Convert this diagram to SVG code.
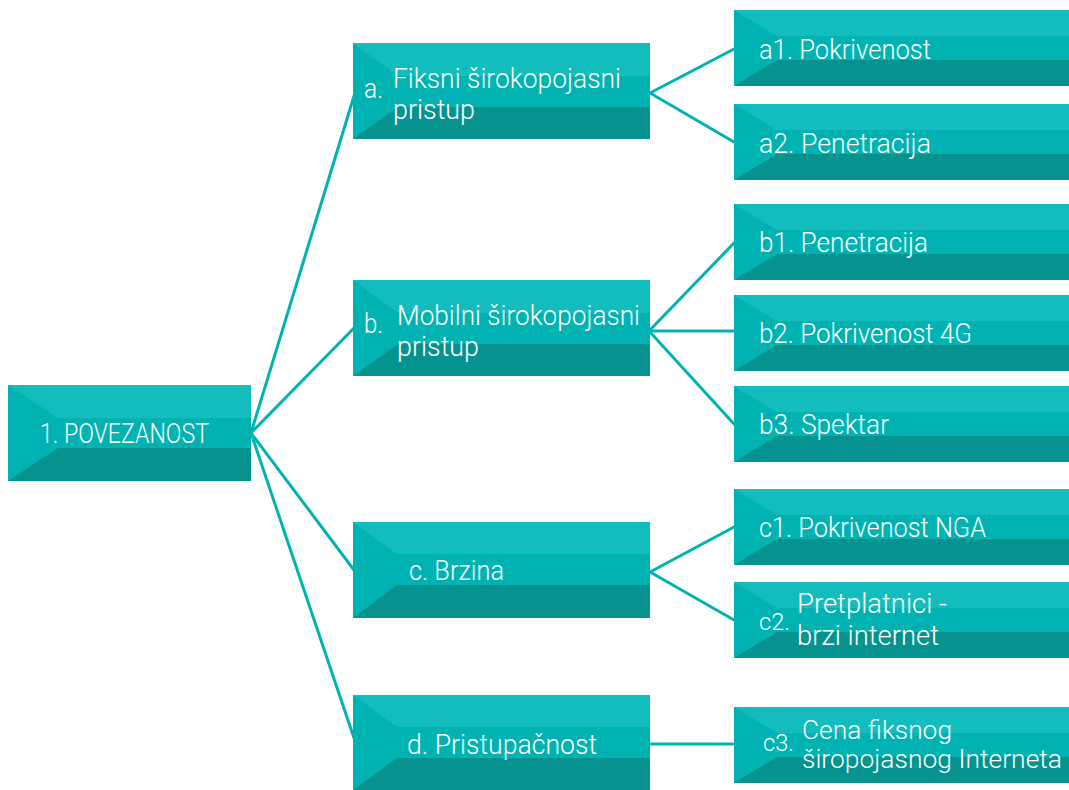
<svg xmlns="http://www.w3.org/2000/svg" width="1069" height="790" viewBox="0 0 1069 790">
<style>
.l{fill:#13bcbd}.m{fill:#00b3b2}.d{fill:#06938f}
.t{font-family:Roboto,"Liberation Sans",sans-serif;font-weight:300;font-size:28px;fill:#ffffff}
.s{font-size:23px}
.n{font-size:26px}
.c{stroke:#00b3b2;stroke-width:3;fill:none;stroke-linecap:round}
</style>
<rect width="1069" height="790" fill="#ffffff"/>
<g id="connectors" class="c">
<line x1="251" y1="433" x2="354" y2="96"/>
<line x1="251" y1="433" x2="354" y2="328"/>
<line x1="251" y1="433" x2="354" y2="570"/>
<line x1="251" y1="433" x2="354" y2="738"/>
<line x1="650" y1="93" x2="734" y2="49"/>
<line x1="650" y1="93" x2="734" y2="142"/>
<line x1="650" y1="330" x2="734" y2="243"/>
<line x1="650" y1="331" x2="734" y2="331"/>
<line x1="650" y1="332" x2="734" y2="424"/>
<line x1="650" y1="572" x2="734" y2="527"/>
<line x1="650" y1="572" x2="734" y2="620"/>
<line x1="650" y1="744" x2="734" y2="744"/>
</g>
<g id="root">
<rect class="m" x="8" y="385" width="243" height="96"/>
<rect class="l" x="8" y="385" width="243" height="33"/>
<rect class="d" x="8" y="448" width="243" height="33"/>
<polygon class="m" points="8,385 58,418 58,448 8,481"/>
<text class="t" x="40" y="443" textLength="169" lengthAdjust="spacingAndGlyphs">1. POVEZANOST</text>
</g>
<g id="node-a">
<rect class="m" x="353" y="43" width="297" height="96"/>
<rect class="l" x="353" y="43" width="297" height="33"/>
<rect class="d" x="353" y="107" width="297" height="32"/>
<polygon class="m" points="353,43 398,76 398,107 353,139"/>
<text class="t" x="364" y="98" textLength="19" lengthAdjust="spacingAndGlyphs">a.</text>
<text class="t" x="393" y="88" textLength="228" lengthAdjust="spacingAndGlyphs">Fiksni širokopojasni</text>
<text class="t" x="393" y="119" textLength="82" lengthAdjust="spacingAndGlyphs">pristup</text>
</g>
<g id="node-b">
<rect class="m" x="353" y="280" width="297" height="96"/>
<rect class="l" x="353" y="280" width="297" height="33"/>
<rect class="d" x="353" y="344" width="297" height="32"/>
<polygon class="m" points="353,280 398,313 398,344 353,376"/>
<text class="t" x="364" y="333" textLength="19" lengthAdjust="spacingAndGlyphs">b.</text>
<text class="t" x="397" y="325" textLength="243" lengthAdjust="spacingAndGlyphs">Mobilni širokopojasni</text>
<text class="t" x="397" y="356" textLength="82" lengthAdjust="spacingAndGlyphs">pristup</text>
</g>
<g id="node-c">
<rect class="m" x="353" y="522" width="297" height="96"/>
<rect class="l" x="353" y="522" width="297" height="32"/>
<rect class="d" x="353" y="585" width="297" height="33"/>
<polygon class="m" points="353,522 397,554 397,585 353,618"/>
<text class="t" x="409" y="580" textLength="95" lengthAdjust="spacingAndGlyphs">c. Brzina</text>
</g>
<g id="node-d">
<rect class="m" x="353" y="695" width="297" height="95"/>
<rect class="l" x="353" y="695" width="297" height="32"/>
<rect class="d" x="353" y="758" width="297" height="32"/>
<polygon class="m" points="353,695 397,727 397,758 353,790"/>
<text class="t" x="407" y="754" textLength="190" lengthAdjust="spacingAndGlyphs">d. Pristupačnost</text>
</g>
<g id="node-a1">
<rect class="m" x="734" y="10" width="335" height="76"/>
<rect class="l" x="734" y="10" width="335" height="26"/>
<rect class="d" x="734" y="60" width="335" height="26"/>
<polygon class="m" points="734,10 777,36 777,60 734,86"/>
<text class="t" x="759" y="59" textLength="172" lengthAdjust="spacingAndGlyphs">a1. Pokrivenost</text>
</g>
<g id="node-a2">
<rect class="m" x="734" y="104" width="335" height="76"/>
<rect class="l" x="734" y="104" width="335" height="26"/>
<rect class="d" x="734" y="154" width="335" height="26"/>
<polygon class="m" points="734,104 777,130 777,154 734,180"/>
<text class="t" x="759" y="153" textLength="172" lengthAdjust="spacingAndGlyphs">a2. Penetracija</text>
</g>
<g id="node-b1">
<rect class="m" x="734" y="204" width="335" height="76"/>
<rect class="l" x="734" y="204" width="335" height="26"/>
<rect class="d" x="734" y="254" width="335" height="26"/>
<polygon class="m" points="734,204 777,230 777,254 734,280"/>
<text class="t" x="759" y="252" textLength="169" lengthAdjust="spacingAndGlyphs">b1. Penetracija</text>
</g>
<g id="node-b2">
<rect class="m" x="734" y="295" width="335" height="76"/>
<rect class="l" x="734" y="295" width="335" height="26"/>
<rect class="d" x="734" y="345" width="335" height="26"/>
<polygon class="m" points="734,295 777,321 777,345 734,371"/>
<text class="t" x="759" y="343" textLength="213" lengthAdjust="spacingAndGlyphs">b2. Pokrivenost 4G</text>
</g>
<g id="node-b3">
<rect class="m" x="734" y="386" width="335" height="76"/>
<rect class="l" x="734" y="386" width="335" height="26"/>
<rect class="d" x="734" y="436" width="335" height="26"/>
<polygon class="m" points="734,386 777,412 777,436 734,462"/>
<text class="t" x="759" y="434" textLength="130" lengthAdjust="spacingAndGlyphs">b3. Spektar</text>
</g>
<g id="node-c1">
<rect class="m" x="734" y="489" width="335" height="76"/>
<rect class="l" x="734" y="489" width="335" height="26"/>
<rect class="d" x="734" y="539" width="335" height="26"/>
<polygon class="m" points="734,489 777,515 777,539 734,565"/>
<text class="t" x="759" y="537" textLength="227" lengthAdjust="spacingAndGlyphs">c1. Pokrivenost NGA</text>
</g>
<g id="node-c2">
<rect class="m" x="734" y="582" width="335" height="76"/>
<rect class="l" x="734" y="582" width="335" height="26"/>
<rect class="d" x="734" y="632" width="335" height="26"/>
<polygon class="m" points="734,582 777,608 777,632 734,658"/>
<text class="t s" x="759" y="630" textLength="31" lengthAdjust="spacingAndGlyphs">c2.</text>
<text class="t" x="797" y="613" textLength="150" lengthAdjust="spacingAndGlyphs">Pretplatnici -</text>
<text class="t" x="797" y="645" textLength="142" lengthAdjust="spacingAndGlyphs">brzi internet</text>
</g>
<g id="node-c3">
<rect class="m" x="734" y="707" width="335" height="76"/>
<rect class="l" x="734" y="707" width="335" height="26"/>
<rect class="d" x="734" y="757" width="335" height="26"/>
<polygon class="m" points="734,707 777,733 777,757 734,783"/>
<text class="t s" x="763" y="751" textLength="31" lengthAdjust="spacingAndGlyphs">c3.</text>
<text class="t n" x="802" y="739" textLength="150" lengthAdjust="spacingAndGlyphs">Cena fiksnog</text>
<text class="t n" x="802" y="768" textLength="260" lengthAdjust="spacingAndGlyphs">širopojasnog Interneta</text>
</g>
</svg>
